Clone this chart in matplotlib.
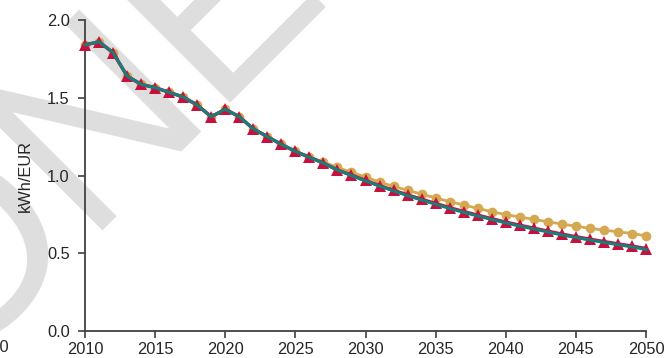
import matplotlib
matplotlib.use("Agg")
import matplotlib.pyplot as plt

years = list(range(2010, 2051))

gold = [1.84, 1.86, 1.79, 1.64, 1.586, 1.565, 1.535, 1.505, 1.453, 1.378,
        1.426, 1.378, 1.300, 1.250, 1.200, 1.155, 1.120, 1.085, 1.052, 1.020,
        0.990, 0.958, 0.930, 0.905, 0.880, 0.856, 0.832, 0.810, 0.789, 0.767,
        0.749, 0.733, 0.718, 0.702, 0.688, 0.674, 0.660, 0.649, 0.638, 0.627,
        0.612]

red = [1.84, 1.86, 1.79, 1.64, 1.586, 1.565, 1.535, 1.505, 1.453, 1.378,
       1.426, 1.378, 1.300, 1.250, 1.200, 1.155, 1.117, 1.080, 1.035, 1.003,
       0.968, 0.935, 0.905, 0.875, 0.847, 0.820, 0.793, 0.768, 0.745, 0.722,
       0.700, 0.680, 0.661, 0.642, 0.623, 0.606, 0.590, 0.575, 0.560, 0.546,
       0.530]

teal = [1.84, 1.86, 1.79, 1.64, 1.586, 1.565, 1.535, 1.505, 1.453, 1.378,
        1.426, 1.378, 1.300, 1.250, 1.200, 1.155, 1.117, 1.080, 1.035, 1.000,
        0.965, 0.932, 0.901, 0.871, 0.842, 0.815, 0.788, 0.763, 0.740, 0.717,
        0.695, 0.675, 0.656, 0.637, 0.618, 0.601, 0.585, 0.570, 0.555, 0.541,
        0.524]

yticks = [0.0, 0.5, 1.0, 1.5, 2.0]
xticks = [2010, 2015, 2020, 2025, 2030, 2035, 2040, 2045, 2050]

plt.rcParams['font.family'] = ['Liberation Sans', 'DejaVu Sans']

fig = plt.figure(figsize=(6.66, 3.58), dpi=100)
fig.patch.set_facecolor('white')

# watermark (behind everything)
fig.text(-52/666, 1-374/358, "ONE", fontsize=180, color='#dedede', rotation=45,
         ha='left', va='baseline', rotation_mode='anchor', zorder=-10)

ax = fig.add_axes([85/666, 1-331/358, (646-85)/666, (331-20)/358])
ax.set_facecolor('none')

ax.plot(years, gold, color='#D5A852', lw=2, marker='o', markersize=7,
        markeredgewidth=0, zorder=2, clip_on=False)
ax.plot(years, red, color='#C8103E', lw=2.5, marker='^', markersize=8,
        markeredgewidth=0, zorder=3, clip_on=False)
ax.plot(years, teal, color='#177F7B', lw=2.2, zorder=4, clip_on=False)

ax.set_xlim(2010, 2050)
ax.set_ylim(0, 2.0)
ax.set_xticks(xticks)
ax.set_yticks(yticks)
ax.set_yticklabels([f"{v:.1f}" for v in yticks])
ax.set_ylabel("kWh/EUR", fontsize=11.8, color='#262626', labelpad=10)

for s in ['top', 'right']:
    ax.spines[s].set_visible(False)
for s in ['left', 'bottom']:
    ax.spines[s].set_color('#404040')
    ax.spines[s].set_linewidth(1.3)
ax.tick_params(axis='both', direction='out', length=5, width=1.2,
               color='#404040', labelsize=11.8, labelcolor='#262626')
ax.tick_params(axis='y', pad=6)
ax.tick_params(axis='x', pad=3)

fig.text(9/666, 1-348/358, "2050", fontsize=11.8, color='#262626',
         ha='right', va='center')

fig.savefig("out.png", dpi=100, facecolor='white')
